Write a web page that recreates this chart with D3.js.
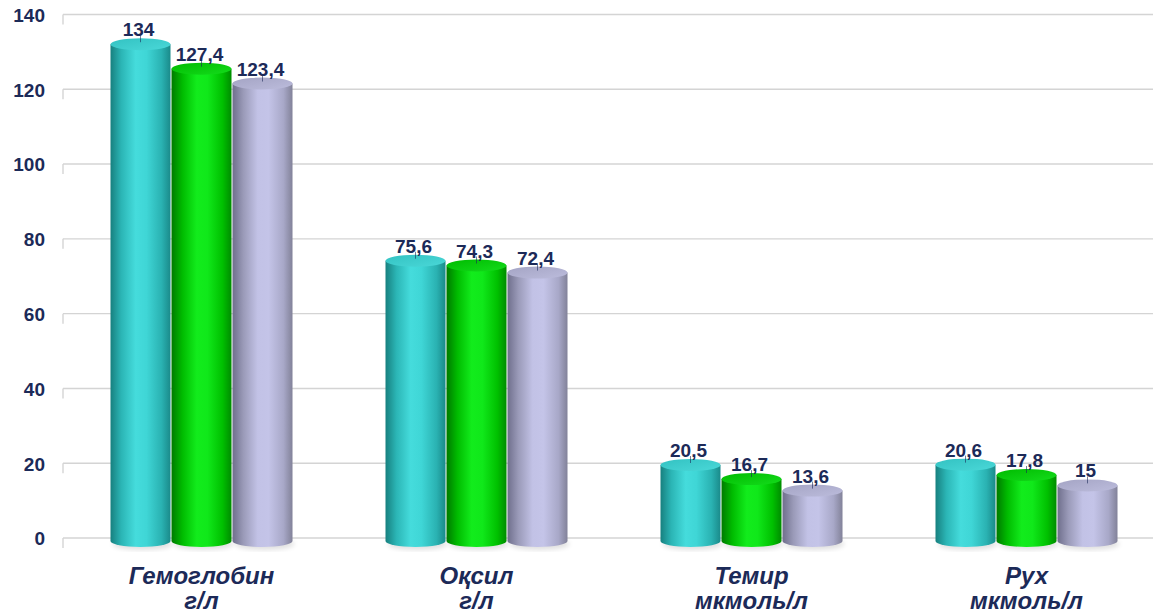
<!DOCTYPE html>
<html>
<head>
<meta charset="utf-8">
<script src="https://cdn.jsdelivr.net/npm/d3@7/dist/d3.min.js"></script>
<style>
  html, body { margin: 0; padding: 0; background: #ffffff; }
  svg { display: block; }
</style>
</head>
<body>
<svg id="chart" width="1153" height="614"></svg>
<script>
// Blood indicators per group
const categoryNames = ["Гемоглобин", "Оқсил", "Темир", "Рух"];
const categoryUnits = ["г/л", "г/л", "мкмоль/л", "мкмоль/л"];
const seriesNames = ["s1", "s2", "s3"];
const series1 = [134, 75.6, 20.5, 20.6];
const series2 = [127.4, 74.3, 16.7, 17.8];
const series3 = [123.4, 72.4, 13.6, 15];
const yTicks = [0, 20, 40, 60, 80, 100, 120, 140];

const seriesValues = [series1, series2, series3];
const fmt = v => String(v).replace(".", ",");

const W = 1153, H = 614;
const svg = d3.select("#chart");
const navy = "#1c2a58";

// Back-wall scale for the grid, front-plane scale for the cylinders
const y = d3.scaleLinear().domain([0, 140]).range([538, 14.5]);
const yBar = d3.scaleLinear().domain([0, 140]).range([541, 22]);

const x0 = d3.scaleBand().domain(categoryNames).range([64, 1164]).padding(0);
const x1 = d3.scaleBand().domain(seriesNames).range([-91.5, 91.5]).padding(0);

// Gradients for cylinder bodies and tops
const palettes = {
  s1: { body: ["#17807f", "#2bb5b5", "#45dcdc", "#3fd6d6", "#2ab2b2", "#1a8a8a"], top: ["#33c2c2", "#4ad8d8"] },
  s2: { body: ["#007a00", "#00bb00", "#12ec1c", "#10e81a", "#00c000", "#008c00"], top: ["#00bb00", "#14dc1c"] },
  s3: { body: ["#6f6f8c", "#9a9ab8", "#c2c2e6", "#c4c4e8", "#a8a8c8", "#828299"], top: ["#a4a4c4", "#bcbcdc"] }
};
const defs = svg.append("defs");
const stopsAt = [0, 0.18, 0.42, 0.6, 0.85, 1];
seriesNames.forEach(s => {
  const g = defs.append("linearGradient").attr("id", "body-" + s)
    .attr("x1", "0%").attr("x2", "100%").attr("y1", "0%").attr("y2", "0%");
  palettes[s].body.forEach((c, i) => g.append("stop").attr("offset", stopsAt[i]).attr("stop-color", c));
  const t = defs.append("linearGradient").attr("id", "top-" + s)
    .attr("x1", "0%").attr("x2", "100%").attr("y1", "0%").attr("y2", "100%");
  t.append("stop").attr("offset", 0).attr("stop-color", palettes[s].top[0]);
  t.append("stop").attr("offset", 1).attr("stop-color", palettes[s].top[1]);
});
defs.append("filter").attr("id", "soft").append("feGaussianBlur").attr("stdDeviation", 2.5);

// Gridlines with the small depth stub on the left
const grid = svg.append("g");
yTicks.forEach(t => {
  grid.append("line")
    .attr("x1", 63).attr("x2", W)
    .attr("y1", y(t)).attr("y2", y(t))
    .attr("stroke", "#d4d4d4").attr("stroke-width", 1.4);
  grid.append("line")
    .attr("x1", 63).attr("x2", 63)
    .attr("y1", y(t)).attr("y2", y(t) + 10)
    .attr("stroke", "#d4d4d4").attr("stroke-width", 1.4);
});

// Y axis labels
const yAxis = d3.axisLeft(y).tickValues(yTicks).tickSize(0).tickPadding(0);
const ya = svg.append("g").attr("transform", "translate(45,0)").call(yAxis);
ya.select(".domain").remove();
ya.selectAll("text")
  .attr("fill", navy)
  .attr("dy", "0.36em")
  .style("font-family", "'Liberation Sans', Arial, sans-serif")
  .style("font-size", "19px")
  .style("font-weight", "bold");

// Cylinders
const rx = 30, ry = 6;
const bars = [];
categoryNames.forEach((c, ci) => {
  seriesNames.forEach((s, si) => {
    bars.push({ cat: c, s, v: seriesValues[si][ci] });
  });
});

const gBars = svg.append("g");
bars.forEach(d => {
  const cx = x0(d.cat) + x0.bandwidth() / 2 + x1(d.s) + x1.bandwidth() / 2;
  const yt = yBar(d.v);
  const yb = yBar(0);
  const left = cx - rx, right = cx + rx;
  // soft base shadow
  gBars.append("ellipse")
    .attr("cx", cx + 2).attr("cy", yb + 3).attr("rx", rx).attr("ry", ry)
    .attr("fill", "#000").attr("opacity", 0.12).attr("filter", "url(#soft)");
  gBars.append("path")
    .attr("d", `M${left},${yt} L${left},${yb} A${rx},${ry} 0 0 0 ${right},${yb} L${right},${yt} Z`)
    .attr("fill", `url(#body-${d.s})`);
  gBars.append("ellipse")
    .attr("cx", cx).attr("cy", yt).attr("rx", rx).attr("ry", ry)
    .attr("fill", `url(#top-${d.s})`);
  // value label with short leader
  gBars.append("line")
    .attr("x1", cx).attr("x2", cx)
    .attr("y1", yt - ry - 3).attr("y2", yt - 2)
    .attr("stroke", navy).attr("stroke-width", 1).attr("opacity", 0.6);
  gBars.append("text")
    .attr("x", cx - 2).attr("y", yt - ry - 2)
    .attr("text-anchor", "middle")
    .attr("fill", navy)
    .style("font-family", "'Liberation Sans', Arial, sans-serif")
    .style("font-size", "19px")
    .style("font-weight", "bold")
    .text(fmt(d.v));
});

// Category labels
const gCat = svg.append("g")
  .style("font-family", "'Liberation Sans', Arial, sans-serif")
  .style("font-size", "24px")
  .style("font-weight", "bold")
  .style("font-style", "italic")
  .attr("fill", navy)
  .attr("text-anchor", "middle");
categoryNames.forEach((c, i) => {
  const cx = x0(c) + x0.bandwidth() / 2;
  gCat.append("text").attr("x", cx).attr("y", 584).text(c);
  gCat.append("text").attr("x", cx).attr("y", 609).text(categoryUnits[i]);
});
</script>
</body>
</html>
